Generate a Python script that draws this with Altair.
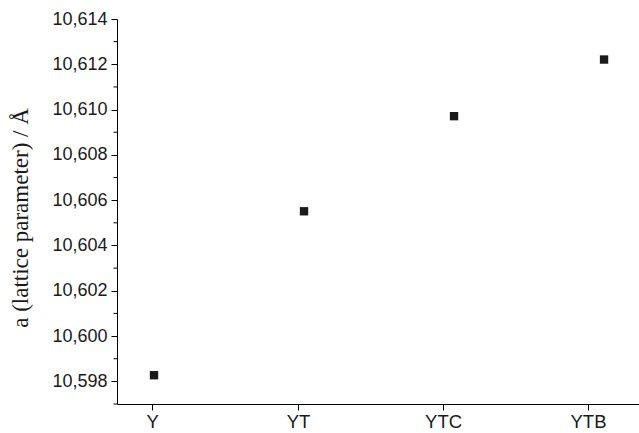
import altair as alt
import pandas as pd

categories = ["Y", "YT", "YTC", "YTB"]
lattice = [10.59827, 10.60551, 10.60971, 10.61221]
# x tick positions (in point-index units)
tick_positions = [-0.013, 0.96, 1.927, 2.893]
y_major = [10.598, 10.600, 10.602, 10.604, 10.606, 10.608, 10.610, 10.612, 10.614]
y_minor = [10.597, 10.599, 10.601, 10.603, 10.605, 10.607, 10.609, 10.611, 10.613]

df = pd.DataFrame({"idx": list(range(len(categories))), "cat": categories, "a": lattice})
minor_df = pd.DataFrame({"a": y_minor})

expr = "'" + categories[-1] + "'"
for i in range(len(categories) - 2, -1, -1):
    expr = f"datum.value < {i + 0.5} ? '{categories[i]}' : ({expr})"

x_scale = alt.Scale(domain=[-0.2467, 3.233], nice=False, zero=False)
y_scale = alt.Scale(domain=[10.597, 10.614], nice=False, zero=False)

y_axis = alt.Axis(
    values=y_major, labelExpr="replace(format(datum.value, '.3f'), '.', ',')",
    title="a (lattice parameter) / Å", titleFont="Liberation Serif",
    titleFontSize=23, titleFontWeight="normal", titleColor="#1a1a1a",
    titlePadding=19, titleY=198.5, grid=False, tickSize=6, tickColor="black",
    domainColor="black", labelFont="Liberation Sans", labelFontSize=18,
    labelColor="#1a1a1a", labelPadding=4, labelFlush=False, labelOverlap=False)

points = alt.Chart(df).mark_point(
    shape="square", filled=True, size=70, color="#1a1a1a", opacity=1
).encode(
    x=alt.X("idx:Q", scale=x_scale, axis=alt.Axis(
        values=tick_positions, labelExpr=expr, title=None, grid=False,
        tickSize=6, tickColor="black", domainColor="black",
        labelFont="Liberation Sans", labelFontSize=18.5, labelColor="#1a1a1a",
        labelPadding=2, labelFlush=False, labelOverlap=False)),
    y=alt.Y("a:Q", scale=y_scale, axis=y_axis),
)

minor = alt.Chart(minor_df).mark_rule(color="black", clip=False, strokeWidth=1).encode(
    y=alt.Y("a:Q", scale=y_scale, axis=y_axis),
    x=alt.value(-3.5), x2=alt.value(0),
)

chart = alt.layer(points, minor).properties(
    width=522, height=385,
    padding={"left": 117, "top": 19, "right": 0, "bottom": 29},
    autosize=alt.AutoSizeParams(type="none"),
).configure(background="white").configure_view(stroke=None)

chart.save("out.html", embed_options={"renderer": "svg", "actions": False})
